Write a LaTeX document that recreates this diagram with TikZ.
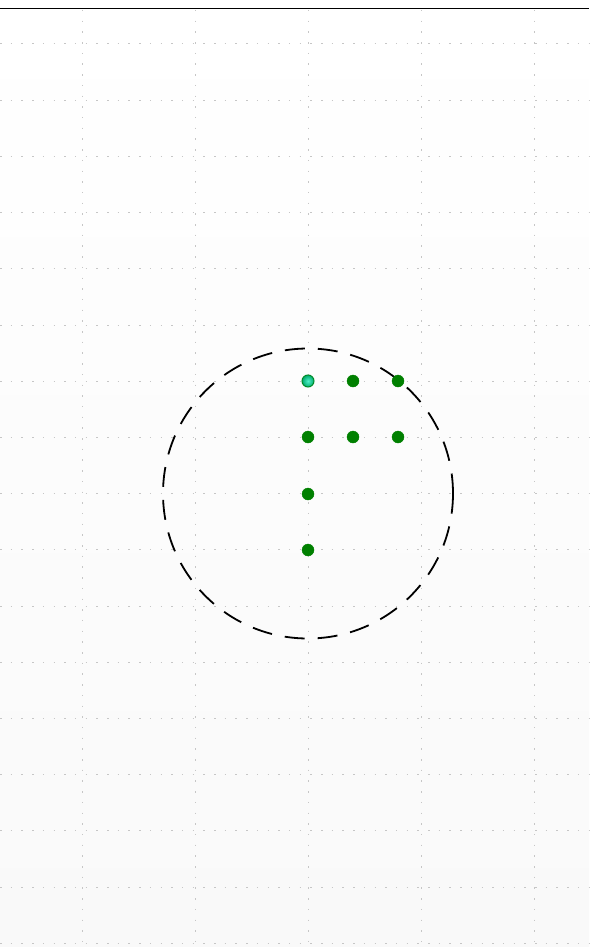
\documentclass[tikz,border=0pt]{standalone}
\begin{document}
\begin{tikzpicture}[x=1pt,y=-1pt,
  gridline/.style={draw=gray!45,line width=1pt,dash pattern=on 1.5pt off 9.2pt},
  dotnode/.style={circle,minimum size=12pt,inner sep=0pt,fill={rgb,255:red,0;green,128;blue,0},draw={rgb,255:red,0;green,128;blue,0}},
  hidot/.style={circle,minimum size=12pt,inner sep=0pt,draw={rgb,255:red,0;green,140;blue,40},line width=1pt,
     inner color={rgb,255:red,80;green,240;blue,200},outer color={rgb,255:red,0;green,170;blue,110}},
  ring/.style={circle,draw=black,line width=1.8pt,dash pattern=on 20pt off 13pt,minimum size=290pt,inner sep=0pt}]
\useasboundingbox (0,0) rectangle (589,947);
\shade[top color=white,bottom color={rgb,255:red,249;green,249;blue,249}] (0,0) rectangle (589,947);
% grid
\foreach \x in {82,195,308,421,534} \draw[gridline] (\x,10) -- (\x,947);
\foreach \i in {0,...,16} \draw[gridline] (0,{44+\i*56.2}) -- (589,{44+\i*56.2});
% top rule
\draw[line width=1.5pt] (0,8.5) -- (589,8.5);
% ring
\node[ring] (ring) at (308,493.5) {};
% dots
\node[hidot] (d1) at (308,381) {};
\node[dotnode] (d2) at (353,381) {};
\node[dotnode] (d3) at (398,381) {};
\node[dotnode] (d4) at (308,437) {};
\node[dotnode] (d5) at (353,437) {};
\node[dotnode] (d6) at (398,437) {};
\node[dotnode] (d7) at (308,494) {};
\node[dotnode] (d8) at (308,550) {};
\end{tikzpicture}
\end{document}
